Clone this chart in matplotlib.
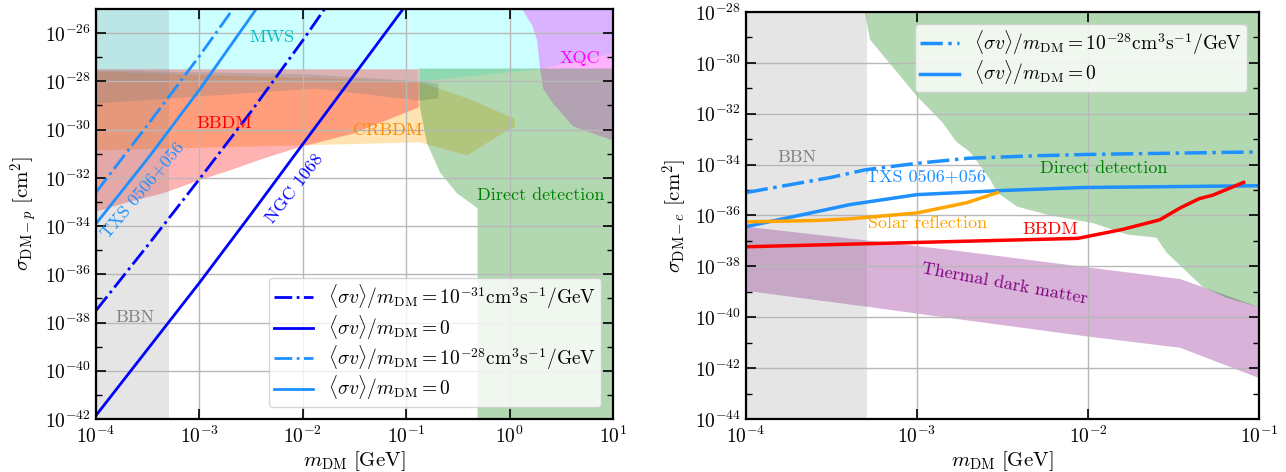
import numpy as np
import matplotlib.pyplot as plt
from matplotlib.ticker import FixedLocator, LogFormatterSciNotation, NullFormatter

plt.rcParams['font.family'] = 'serif'
plt.rcParams['font.serif'] = ['cmr10']
plt.rcParams['mathtext.fontset'] = 'cm'
plt.rcParams['axes.formatter.use_mathtext'] = True
plt.rcParams['axes.unicode_minus'] = False

# ---------- left panel (DM-proton), all values as log10 ----------
ngc_dd_x = [-4, -3.5, -3.0, -2.5, -2.0, -1.79]
ngc_dd_y = [-37.5, -34.8, -32.05, -29.25, -26.3, -25.0]
ngc_x = [-4, -3.5, -3.0, -2.5, -2.0, -1.03]
ngc_y = [-41.85, -39.1, -36.35, -33.5, -30.6, -25.0]
txs_dd_x = [-4, -3.5, -3.0, -2.675]
txs_dd_y = [-32.6, -29.8, -26.95, -25.0]
txs_x = [-4, -3.5, -3.0, -2.45]
txs_y = [-33.9, -31.2, -28.35, -25.0]

mws_x = [-4, 1, 1, 0.29, -0.876, -4]
mws_y = [-25, -25, -26.85, -27.5, -28.0, -28.0]
xqc_x = [0.12, 0.22, 0.265, 0.294, 0.323, 0.42, 0.613, 1.0, 1.0]
xqc_y = [-25, -25.7, -26.3, -27.45, -28.3, -28.92, -29.87, -30.45, -25]
bbdm_p_x = [-4, -0.88, -0.88, -1.51, -2.04, -2.38, -2.71, -3.0, -3.35, -3.68, -4]
bbdm_p_y = [-27.5, -27.5, -29.08, -30.16, -30.74, -31.2, -31.7, -32.1, -32.64, -33.0, -33.4]
crbdm_x = [-4, -0.9, -0.69, -0.41, 0.02, 0.05, 0.05, 0.0, -0.41, -0.87, -1.5, -4]
crbdm_y = [-27.6, -28.0, -28.3, -28.7, -29.5, -29.55, -29.9, -29.97, -31.07, -30.53, -30.6, -30.86]
band_x = [-4, -2.0, -0.87, -0.69, -0.69, -0.87, -1.87, -4]
band_y = [-27.55, -27.7, -28.0, -28.1, -28.7, -28.8, -28.3, -28.92]
dd_p_x = [-0.876, 1, 1, -0.31, -0.31, -0.51, -0.67, -0.8, -0.87]
dd_p_y = [-27.47, -27.47, -42, -42, -33.26, -32.64, -31.8, -30.57, -29.0]
bbn_max = 5.1e-4

# ---------- right panel (DM-electron) ----------
txs_e_dd_x = [-4, -3.5, -3.3, -3.0, -2.7, -2.3, -2.0, -1.0]
txs_e_dd_y = [-35.1, -34.5, -34.2, -33.95, -33.75, -33.65, -33.6, -33.5]
txs_e_x = [-4, -3.39, -3.0, -2.51, -2.03, -1.0]
txs_e_y = [-36.44, -35.57, -35.18, -35.02, -34.9, -34.83]
solar_x = [-4, -3.6, -3.39, -3.0, -2.71, -2.53]
solar_y = [-36.25, -36.2, -36.13, -35.9, -35.5, -35.1]
bbdm_e_x = [-4, -2.06, -1.8, -1.58, -1.46, -1.35, -1.27, -1.09]
bbdm_e_y = [-37.23, -36.9, -36.55, -36.17, -35.7, -35.34, -35.2, -34.7]
dd_e_x = [-3.304, -1.0, -1.0, -1.19, -1.33, -1.54, -1.6, -1.77, -1.97, -2.22, -2.415,
          -2.53, -2.57, -2.69, -2.77, -2.85, -3.0, -3.275]
dd_e_y = [-28, -28, -39.6, -39.24, -38.8, -37.46, -36.87, -36.75, -36.3, -36.0, -35.65,
          -35.1, -34.6, -33.5, -33.1, -32.35, -31.31, -29.08]
thermal_up_x = [-4, -2.81, -1.46, -1.0]
thermal_up_y = [-36.44, -37.35, -38.5, -39.6]
thermal_lo_x = [-4, -3.3, -2.81, -2.0, -1.46, -1.0]
thermal_lo_y = [-38.96, -39.58, -40.03, -40.76, -41.2, -42.39]

lab_nonzero_31 = r'$\langle\sigma v\rangle/m_{\mathrm{DM}}=10^{-31}\mathrm{cm}^3\mathrm{s}^{-1}/\mathrm{GeV}$'
lab_nonzero_28 = r'$\langle\sigma v\rangle/m_{\mathrm{DM}}=10^{-28}\mathrm{cm}^3\mathrm{s}^{-1}/\mathrm{GeV}$'
lab_zero = r'$\langle\sigma v\rangle/m_{\mathrm{DM}}=0$'


def p(v):
    return np.power(10.0, np.array(v, dtype=float))


def style_axes(ax, ymin, ymax):
    ax.set_xscale('log')
    ax.set_yscale('log')
    ax.yaxis.set_major_locator(FixedLocator(p(range(ymin, ymax + 1, 2))))
    ax.yaxis.set_minor_locator(FixedLocator(p(range(ymin + 1, ymax, 2))))
    ax.yaxis.set_major_formatter(LogFormatterSciNotation())
    ax.yaxis.set_minor_formatter(NullFormatter())
    ax.xaxis.set_minor_locator(FixedLocator([]))
    ax.tick_params(which='both', direction='in', top=True, right=True, labelsize=14)
    ax.tick_params(which='major', length=7, width=1.2)
    ax.tick_params(which='minor', length=4, width=1.0)
    ax.tick_params(axis='x', pad=5)
    for s in ax.spines.values():
        s.set_linewidth(1.6)
    ax.grid(True, which='major', color='0.72', lw=1.0)


fig = plt.figure(figsize=(12.86, 4.72), dpi=100)
ax1 = fig.add_axes([0.0747, 0.1123, 0.402, 0.8687])
ax2 = fig.add_axes([0.580, 0.1123, 0.399, 0.8623])

# left panel
ax1.fill(p(mws_x), p(mws_y), color='cyan', alpha=0.2, lw=0)
ax1.fill(p(xqc_x), p(xqc_y), color='magenta', alpha=0.3, lw=0)
ax1.fill(p(crbdm_x), p(crbdm_y), color='orange', alpha=0.3, lw=0)
ax1.fill(p(bbdm_p_x), p(bbdm_p_y), color='red', alpha=0.3, lw=0)
ax1.fill(p(band_x), p(band_y), color='gray', alpha=0.3, lw=0)
ax1.fill(p(dd_p_x), p(dd_p_y), color='green', alpha=0.3, lw=0)
ax1.axvspan(1e-4, bbn_max, color='gray', alpha=0.2, lw=0)

ax1.plot(p(ngc_dd_x), p(ngc_dd_y), color='blue', ls='-.', lw=2, label=lab_nonzero_31)
ax1.plot(p(ngc_x), p(ngc_y), color='blue', ls='-', lw=2, label=lab_zero)
ax1.plot(p(txs_dd_x), p(txs_dd_y), color='dodgerblue', ls='-.', lw=2, label=lab_nonzero_28)
ax1.plot(p(txs_x), p(txs_y), color='dodgerblue', ls='-', lw=2, label=lab_zero)

fs = 13
ax1.text(5.0e-3, 10**-26.18, 'MWS', color='c', fontsize=fs, ha='center', va='center')
ax1.text(10**0.68, 10**-27.05, 'XQC', color='magenta', fontsize=fs, ha='center', va='center')
ax1.text(10**-2.76, 10**-29.74, 'BBDM', color='red', fontsize=fs, ha='center', va='center')
ax1.text(10**-1.18, 10**-30.03, 'CRBDM', color='darkorange', fontsize=fs, ha='center', va='center')
ax1.text(10**0.3, 10**-32.72, 'Direct detection', color='green', fontsize=fs, ha='center', va='center')
ax1.text(10**-3.62, 10**-37.78, 'BBN', color='gray', fontsize=fs, ha='center', va='center')
ax1.text(10**-3.55, 10**-32.52, 'TXS 0506+056', color='dodgerblue', fontsize=fs,
         ha='center', va='center', rotation=50)
ax1.text(10**-2.08, 10**-32.43, 'NGC 1068', color='blue', fontsize=fs,
         ha='center', va='center', rotation=52)

ax1.set_xlim(1e-4, 10)
ax1.set_ylim(1e-42, 1e-25)
style_axes(ax1, -42, -26)
ax1.set_xlabel(r'$m_{\mathrm{DM}}\ [\mathrm{GeV}]$', fontsize=15, labelpad=1)
ax1.set_ylabel(r'$\sigma_{\mathrm{DM}-p}\ [\mathrm{cm}^2]$', fontsize=15)
ax1.legend(loc='lower right', fontsize=14, handlelength=2.0, labelspacing=0.1,
           borderpad=0.25, borderaxespad=0.6)

# right panel
ax2.fill(p(thermal_up_x + thermal_lo_x[::-1]), p(thermal_up_y + thermal_lo_y[::-1]),
         color='purple', alpha=0.3, lw=0)
ax2.fill(p(dd_e_x), p(dd_e_y), color='green', alpha=0.3, lw=0)
ax2.axvspan(1e-4, bbn_max, color='gray', alpha=0.2, lw=0)

ax2.plot(p(txs_e_dd_x), p(txs_e_dd_y), color='dodgerblue', ls='-.', lw=2.5, label=lab_nonzero_28)
ax2.plot(p(txs_e_x), p(txs_e_y), color='dodgerblue', ls='-', lw=2.5, label=lab_zero)
ax2.plot(p(solar_x), p(solar_y), color='orange', lw=2.5)
ax2.plot(p(bbdm_e_x), p(bbdm_e_y), color='red', lw=2.5)

ax2.text(10**-3.70, 10**-33.72, 'BBN', color='gray', fontsize=fs, ha='center', va='center')
ax2.text(10**-2.95, 10**-34.47, 'TXS 0506+056', color='dodgerblue', fontsize=fs, ha='center', va='center')
ax2.text(10**-1.91, 10**-34.16, 'Direct detection', color='green', fontsize=fs, ha='center', va='center')
ax2.text(10**-2.94, 10**-36.32, 'Solar reflection', color='orange', fontsize=fs, ha='center', va='center')
ax2.text(10**-2.22, 10**-36.56, 'BBDM', color='red', fontsize=fs, ha='center', va='center')
ax2.text(10**-2.485, 10**-38.68, 'Thermal dark matter', color='purple', fontsize=fs,
         ha='center', va='center', rotation=-10.5)

ax2.set_xlim(1e-4, 1e-1)
ax2.set_ylim(1e-44, 1e-28)
style_axes(ax2, -44, -28)
ax2.set_xlabel(r'$m_{\mathrm{DM}}\ [\mathrm{GeV}]$', fontsize=15, labelpad=1)
ax2.set_ylabel(r'$\sigma_{\mathrm{DM}-e}\ [\mathrm{cm}^2]$', fontsize=15)
ax2.legend(loc='upper right', fontsize=14, handlelength=2.0, labelspacing=0.1,
           borderpad=0.25, borderaxespad=0.6)

fig.savefig('out.png', dpi=100)
